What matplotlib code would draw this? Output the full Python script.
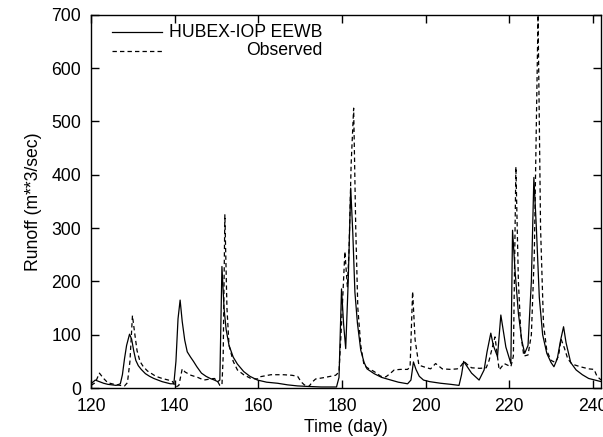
import matplotlib
matplotlib.use("Agg")
import matplotlib.pyplot as plt
from matplotlib.lines import Line2D

plt.rcParams['font.family'] = ['Liberation Sans', 'DejaVu Sans']

# Simulated runoff (HUBEX-IOP EEWB)
sim_day = [120, 121, 122, 123, 124, 125, 126, 127, 127.5, 128, 128.5, 129.2, 129.7, 130.2, 130.7,
           131.3, 132, 133, 134, 135, 136, 137, 138, 139, 139.8, 140.3, 140.8, 141.3, 141.8,
           142.4, 143, 143.8, 144.5, 145.3, 146.4, 147.5, 148.5, 149.5, 150.3, 150.8, 151.3,
           151.8, 152.3, 153, 154, 155, 156.5, 158, 159.8, 162, 164.6, 167, 169.4, 172, 175,
           178.7, 179.3, 179.9, 180.4, 180.9, 181.5, 182.1, 182.6, 183.1, 183.7, 184.5, 185.3,
           186, 187.7, 189.5, 191.7, 193.5, 195.7, 196.5, 197.1, 197.7, 198.5, 199.5, 201,
           203.6, 206, 208, 208.6, 209.1, 209.8, 211, 212.8, 214, 214.7, 215.6, 216.2, 217.2,
           218, 219.2, 220.4, 220.8, 221.4, 222.2, 223, 223.7, 224.5, 225.3, 225.9, 226.5,
           227.2, 228, 229, 230, 230.7, 231.5, 232.3, 233, 233.6, 234.7, 236, 237.5, 239,
           240.5, 242]
sim_val = [8, 15, 12, 9, 7, 6, 5, 8, 25, 55, 80, 101, 92, 70, 52,
           42, 35, 27, 22, 18, 15, 12, 10, 8, 8, 50, 130, 165, 125,
           90, 68, 58, 50, 40, 28, 22, 18, 15, 12, 15, 228,
           150, 110, 80, 58, 45, 31, 22, 15, 11, 9, 6, 4, 3, 2,
           2, 20, 186, 120, 74, 200, 375, 290, 180, 122, 71, 48,
           36, 27, 20, 15, 11, 8, 15, 49, 35, 22, 15, 12,
           9, 7, 5, 25, 50, 42, 28, 15, 34, 68, 103, 80, 59,
           137, 77, 46, 296, 220, 140, 90, 65, 80, 200, 395, 300,
           170, 100, 65, 48, 40, 55, 90, 115, 85, 48, 34, 25, 18,
           15, 12]

# Observed runoff
obs_day = [120, 121, 122, 123, 124, 125, 126, 127, 128, 128.7, 129.3, 129.9, 130.4, 131, 131.7,
           132.5, 133.5, 134.5, 135.5, 137, 138.5, 139.5, 140.3, 141, 141.8, 142.5, 143.9,
           145.5, 147, 148.5, 149.5, 150.3, 150.8, 151.3, 151.6, 152, 152.5, 153, 154, 155,
           156.5, 158.2, 159.8, 160.3, 163, 166, 168, 169.4, 170.2, 171, 172.1, 173, 173.7,
           176, 178.5, 179.3, 179.9, 180.7, 181.3, 181.7, 182.2, 182.8, 183.3, 183.8, 184.5,
           185.3, 186.5, 187.7, 189.3, 190.5, 191.5, 192.5, 194, 195.7, 196.3, 196.9, 197.5,
           198.4, 199.5, 201.2, 202.4, 204, 206, 207.6, 208.5, 209.2, 210, 211, 213, 214.5,
           215.2, 216.6, 217.6, 218.8, 220.4, 221, 221.6, 222.2, 222.8, 223.5, 224.5, 225.3,
           226, 226.9, 227.5, 228.2, 229, 230, 231, 231.8, 232.4, 233.2, 234, 235, 237,
           239, 240.3, 241, 242]
obs_val = [5, 10, 28, 18, 10, 8, 6, 5, 4, 10, 50, 136, 105, 70, 50,
           40, 32, 27, 22, 18, 15, 12, 2, 5, 36, 30, 24,
           20, 15, 17, 18, 12, 5, 5, 60, 325, 150, 80, 50, 34,
           25, 18, 17, 21, 25, 25, 24, 22, 12, 6, 3, 12, 17,
           20, 24, 30, 120, 256, 190, 260, 420, 525, 300, 150, 80,
           42, 36, 31, 22, 21, 27, 34, 35, 35, 40, 181, 90,
           43, 40, 36, 46, 36, 35, 36, 42, 50, 44, 38, 37, 38,
           52, 96, 34, 46, 40, 60, 415, 200, 100, 60, 62, 100,
           250, 700, 300, 120, 70, 52, 48, 60, 92, 75, 55, 45, 40,
           36, 35, 22, 15]

x_ticks = [120, 140, 160, 180, 200, 220, 240]
y_ticks = [0, 100, 200, 300, 400, 500, 600, 700]
labels = ["HUBEX-IOP EEWB", "Observed"]

fig = plt.figure(figsize=(6.03, 4.37), dpi=100)
ax = fig.add_axes([0.151, 0.112, 0.846, 0.854])

ax.plot(sim_day, sim_val, color='black', lw=0.9, linestyle='-')
ax.plot(obs_day, obs_val, color='black', lw=0.9, linestyle=(0, (3.5, 2.5)))

ax.set_xlim(120, 242)
ax.set_ylim(0, 700)
ax.set_xticks(x_ticks)
ax.set_yticks(y_ticks)
ax.tick_params(direction='in', length=6, width=1, top=True, right=True,
               labelsize=12.7, pad=7)
for s in ax.spines.values():
    s.set_linewidth(1)

ax.set_xlabel("Time (day)", fontsize=12.7, labelpad=3)
ax.set_ylabel("Runoff (m**3/sec)", fontsize=12.7, labelpad=7)

# Manual legend with right-aligned labels
styles = ['-', (0, (3.5, 2.5))]
ys = [0.954, 0.904]
for lab, st, yy in zip(labels, styles, ys):
    ax.add_line(Line2D([0.041, 0.139], [yy, yy], transform=ax.transAxes,
                       color='black', lw=0.9, linestyle=st))
    ax.text(0.453, yy, lab, transform=ax.transAxes, ha='right', va='center',
            fontsize=12.7)

fig.savefig("out.png", dpi=100)
